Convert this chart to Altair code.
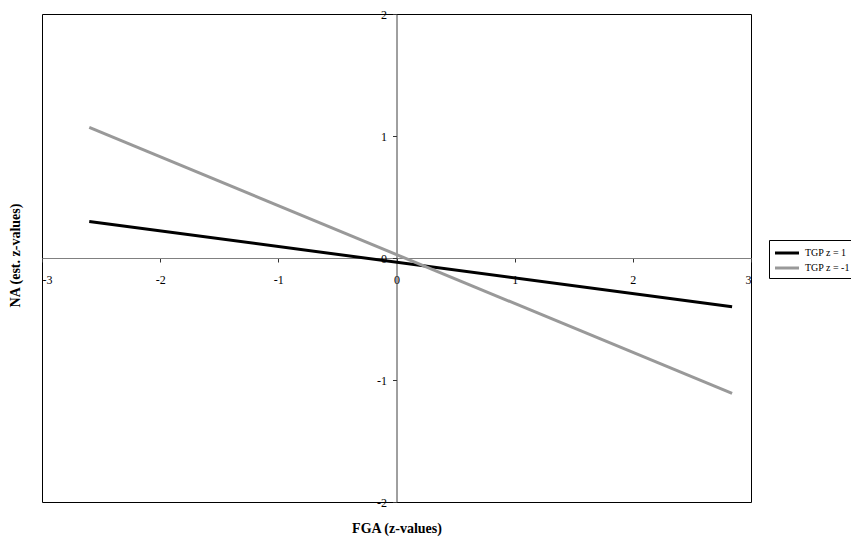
import altair as alt
import pandas as pd

# data
x_ends = [-2.6, 2.84]
tgp_pos1 = [0.30, -0.40]
tgp_neg1 = [1.07, -1.11]
series_names = ["TGP z = 1", "TGP z = -1"]
series_colors = ["#000000", "#999999"]
x_ticks = [-3, -2, -1, 0, 1, 2, 3]
y_ticks = [-2, -1, 0, 1, 2]

rows = []
for name, ys in zip(series_names, [tgp_pos1, tgp_neg1]):
    for xv, yv in zip(x_ends, ys):
        rows.append({"FGA": xv, "NA": yv, "series": name})
df = pd.DataFrame(rows)

W, H = 709, 488
FONT = "Liberation Serif"

chart = alt.Chart(df).mark_line(strokeWidth=3, clip=False).encode(
    x=alt.X("FGA:Q",
            scale=alt.Scale(domain=[-3, 3], nice=False, zero=False),
            axis=alt.Axis(values=x_ticks, offset=-H / 2,
                          labelExpr="toString(datum.value)",
                          domainColor="#808080", domainWidth=1,
                          tickColor="#333333", tickSize=4, labelPadding=12,
                          labelFont=FONT, labelFontSize=12, labelColor="#000000",
                          grid=False,
                          title="FGA (z-values)", titleFont=FONT, titleFontSize=14,
                          titleFontWeight="bold", titleColor="#000000",
                          titleY=H / 2 + 26, titleBaseline="middle")),
    y=alt.Y("NA:Q",
            scale=alt.Scale(domain=[-2, 2], nice=False, zero=False),
            axis=alt.Axis(values=y_ticks, offset=-W / 2,
                          labelExpr="toString(datum.value)",
                          domainColor="#404040", domainWidth=1,
                          tickColor="#333333", tickSize=4, labelPadding=6,
                          labelFont=FONT, labelFontSize=12, labelColor="#000000",
                          grid=False,
                          title="NA (est. z-values)", titleFont=FONT, titleFontSize=14,
                          titleFontWeight="bold", titleColor="#000000",
                          titleAngle=-90, titleX=-W / 2 - 27, titleY=H / 2 - 3,
                          titleBaseline="middle", titleAlign="center")),
    color=alt.Color("series:N",
                    scale=alt.Scale(domain=series_names, range=series_colors),
                    legend=alt.Legend(title=None, orient="none",
                                      legendX=727, legendY=226,
                                      strokeColor="#000000", padding=4,
                                      symbolType="M-1.6,0H1.6", symbolSize=225,
                                      symbolStrokeWidth=3, symbolOffset=5,
                                      labelFont=FONT, labelFontSize=10,
                                      labelOffset=9,
                                      labelColor="#000000", rowPadding=0)),
).properties(
    width=W, height=H,
    autosize=alt.AutoSizeParams(type="none"),
    padding={"left": 34, "top": 6, "right": 100, "bottom": 35},
).configure_view(
    stroke="#000000", strokeWidth=1
)

chart.save("out.html", embed_options={"renderer": "svg", "actions": False})
